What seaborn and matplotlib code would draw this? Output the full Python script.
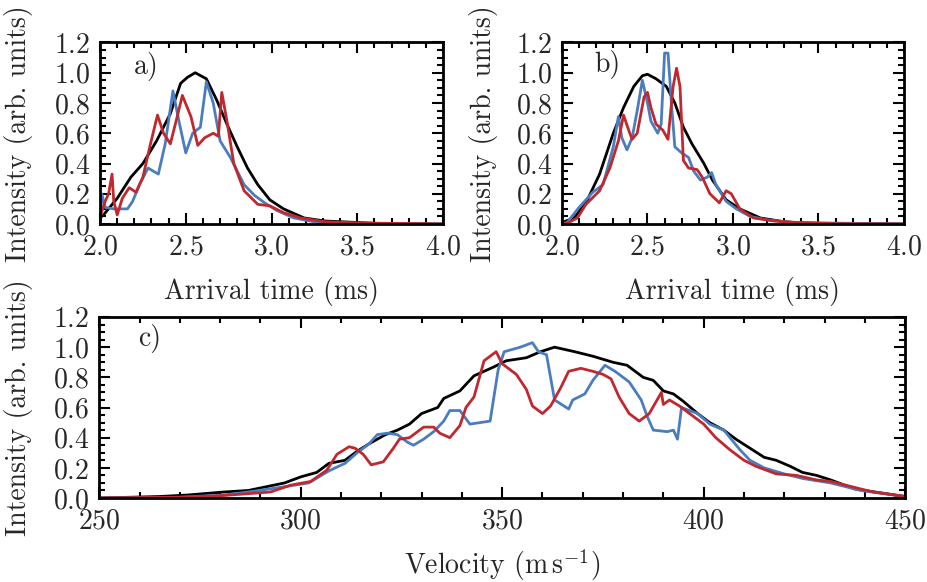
import matplotlib
matplotlib.use("Agg")
import matplotlib.pyplot as plt
from matplotlib.ticker import MultipleLocator
import seaborn as sns

# ---- panel a) arrival time traces ----
ta_black = [2.00, 2.02, 2.10, 2.18, 2.25, 2.33, 2.41, 2.47, 2.51, 2.555, 2.62, 2.68, 2.74,
            2.80, 2.86, 2.92, 2.99, 3.07, 3.19, 3.31, 3.50, 3.70, 4.00]
ia_black = [0.04, 0.06, 0.17, 0.31, 0.40, 0.55, 0.73, 0.93, 0.97, 1.00, 0.96, 0.82, 0.66,
            0.51, 0.37, 0.26, 0.16, 0.10, 0.04, 0.02, 0.01, 0.0, 0.0]

ta_blue = [2.00, 2.01, 2.03, 2.08, 2.16, 2.19, 2.23, 2.28, 2.34, 2.38, 2.425, 2.46, 2.50,
           2.54, 2.585, 2.62, 2.66, 2.70, 2.76, 2.84, 2.90, 2.96, 3.03, 3.13, 3.27, 3.50, 4.00]
ia_blue = [0.02, 0.20, 0.11, 0.10, 0.10, 0.15, 0.26, 0.37, 0.33, 0.53, 0.88, 0.68, 0.47,
           0.60, 0.64, 0.94, 0.80, 0.55, 0.44, 0.26, 0.19, 0.14, 0.09, 0.04, 0.01, 0.005, 0.0]

ta_red = [2.00, 2.03, 2.05, 2.07, 2.08, 2.10, 2.13, 2.17, 2.21, 2.25, 2.29, 2.335, 2.37,
          2.41, 2.45, 2.48, 2.53, 2.57, 2.61, 2.66, 2.69, 2.71, 2.74, 2.78, 2.84, 2.92,
          2.99, 3.07, 3.17, 3.31, 3.50, 4.00]
ia_red = [0.05, 0.15, 0.20, 0.33, 0.15, 0.06, 0.17, 0.24, 0.21, 0.31, 0.51, 0.72, 0.60,
          0.53, 0.71, 0.85, 0.71, 0.52, 0.57, 0.60, 0.58, 0.87, 0.68, 0.40, 0.22, 0.13,
          0.12, 0.075, 0.04, 0.015, 0.007, 0.0]

# ---- panel b) arrival time traces ----
tb_black = [2.00, 2.07, 2.14, 2.22, 2.30, 2.36, 2.42, 2.47, 2.50, 2.55, 2.61, 2.66, 2.71,
            2.76, 2.83, 2.88, 2.96, 3.04, 3.16, 3.31, 3.50, 4.00]
ib_black = [0.01, 0.04, 0.14, 0.33, 0.60, 0.77, 0.91, 0.98, 0.99, 0.96, 0.91, 0.80, 0.64,
            0.53, 0.40, 0.29, 0.16, 0.10, 0.04, 0.013, 0.004, 0.0]

tb_blue = [2.00, 2.03, 2.10, 2.18, 2.24, 2.30, 2.33, 2.35, 2.38, 2.41, 2.44, 2.47, 2.50,
           2.52, 2.56, 2.58, 2.60, 2.62, 2.64, 2.66, 2.70, 2.74, 2.77, 2.81, 2.85, 2.875,
           2.90, 2.96, 3.02, 3.10, 3.20, 3.35, 4.00]
ib_blue = [0.0, 0.01, 0.11, 0.21, 0.26, 0.51, 0.71, 0.57, 0.49, 0.57, 0.75, 0.95, 0.80,
           0.68, 0.60, 0.66, 1.13, 1.13, 0.80, 0.51, 0.47, 0.44, 0.35, 0.29, 0.31, 0.34,
           0.26, 0.15, 0.10, 0.05, 0.027, 0.01, 0.0]

tb_red = [2.00, 2.03, 2.09, 2.14, 2.22, 2.28, 2.33, 2.36, 2.39, 2.41, 2.44, 2.48, 2.50,
          2.52, 2.55, 2.59, 2.62, 2.65, 2.67, 2.69, 2.71, 2.74, 2.79, 2.82, 2.865, 2.92,
          2.96, 2.99, 3.04, 3.12, 3.24, 3.39, 3.59, 4.00]
ib_red = [0.0, 0.005, 0.04, 0.13, 0.22, 0.37, 0.55, 0.72, 0.62, 0.56, 0.60, 0.84, 0.87,
          0.77, 0.66, 0.62, 0.56, 0.91, 1.03, 0.91, 0.42, 0.37, 0.36, 0.31, 0.20, 0.14,
          0.22, 0.20, 0.10, 0.04, 0.02, 0.009, 0.002, 0.0]

# ---- panel c) velocity traces ----
vc_black = [250, 265, 272, 281, 287, 296, 300, 304, 307, 311, 314, 317, 321, 324, 327, 330,
            334, 335.5, 339.5, 343, 348, 351, 356, 359.5, 363, 368, 372.5, 377.5, 381, 385,
            387.5, 390, 392.5, 395, 398.5, 401.5, 405, 408, 411.5, 415, 418, 421.5, 424.5,
            428, 431.5, 437.5, 445, 450]
ic_black = [0.0, 0.01, 0.02, 0.04, 0.05, 0.10, 0.14, 0.17, 0.23, 0.25, 0.31, 0.36, 0.42,
            0.45, 0.49, 0.56, 0.60, 0.66, 0.71, 0.81, 0.87, 0.91, 0.93, 0.97, 1.00, 0.97,
            0.94, 0.90, 0.88, 0.80, 0.78, 0.71, 0.69, 0.64, 0.56, 0.50, 0.45, 0.39, 0.33,
            0.27, 0.25, 0.21, 0.17, 0.15, 0.12, 0.06, 0.03, 0.01]

vc_blue = [250, 270, 281, 287, 296, 302, 307, 311, 314, 317, 319, 321.5, 324, 326.5, 328,
           330.5, 333, 335.5, 337, 339.5, 342, 347, 349, 350.5, 354.5, 357.5, 359, 361,
           363, 366.5, 367.5, 370.5, 372.5, 375.5, 378, 381.5, 384.5, 386, 387.5, 391,
           392.5, 393.5, 394.5, 398.5, 401.5, 405, 409, 411.5, 415, 420, 424.5, 431.5,
           439, 450]
ic_blue = [0.0, 0.005, 0.02, 0.04, 0.075, 0.10, 0.18, 0.23, 0.30, 0.36, 0.42, 0.43, 0.42,
           0.37, 0.35, 0.39, 0.44, 0.51, 0.58, 0.58, 0.49, 0.51, 0.85, 0.97, 1.00, 1.03,
           0.97, 0.95, 0.65, 0.59, 0.65, 0.69, 0.78, 0.88, 0.84, 0.77, 0.65, 0.54, 0.45,
           0.44, 0.45, 0.39, 0.60, 0.56, 0.49, 0.45, 0.32, 0.25, 0.20, 0.16, 0.13, 0.10,
           0.05, 0.01]

vc_red = [250, 270, 280, 292.5, 297.5, 302.5, 306.5, 309, 312, 313.5, 315.5, 317.5, 320.5,
          323, 324.5, 327, 330.5, 333, 334.5, 337, 339.5, 341, 343, 345.5, 348.5, 350,
          353.5, 356, 357.5, 360, 362, 364.5, 366.5, 369.5, 372.5, 375, 377, 379, 381.5,
          384, 386.5, 389.5, 390, 391.5, 394, 396.5, 400, 403, 406.5, 410, 413, 418, 423,
          428, 431.5, 442, 450]
ic_red = [0.0, 0.005, 0.015, 0.04, 0.085, 0.11, 0.185, 0.29, 0.34, 0.33, 0.29, 0.22, 0.24,
          0.33, 0.39, 0.40, 0.47, 0.47, 0.43, 0.40, 0.48, 0.60, 0.67, 0.91, 0.97, 0.89,
          0.82, 0.72, 0.61, 0.56, 0.61, 0.73, 0.84, 0.86, 0.84, 0.82, 0.79, 0.67, 0.56,
          0.51, 0.56, 0.70, 0.62, 0.65, 0.61, 0.56, 0.49, 0.40, 0.32, 0.25, 0.21, 0.16,
          0.15, 0.12, 0.11, 0.04, 0.01]

BLACK = "#000000"
BLUE = "#4a7dbf"
RED = "#c0282e"

sns.set_style("ticks")
plt.rcParams['font.family'] = ['cmr10', 'DejaVu Serif']
plt.rcParams['mathtext.fontset'] = 'cm'
plt.rcParams['axes.formatter.use_mathtext'] = True
plt.rcParams['axes.unicode_minus'] = False

FS = 20
fig = plt.figure(figsize=(9.28, 5.82), dpi=100)
ax_a = fig.add_axes([0.1078, 0.6151, 0.3696, 0.3119])
ax_b = fig.add_axes([0.6056, 0.6151, 0.3685, 0.3119])
ax_c = fig.add_axes([0.1069, 0.1443, 0.8685, 0.3110])


def draw(ax, x_k, y_k, x_b, y_b, x_r, y_r):
    sns.lineplot(x=x_k, y=y_k, color=BLACK, linewidth=2.0, ax=ax, estimator=None, sort=False)
    sns.lineplot(x=x_b, y=y_b, color=BLUE, linewidth=2.0, ax=ax, estimator=None, sort=False)
    sns.lineplot(x=x_r, y=y_r, color=RED, linewidth=2.0, ax=ax, estimator=None, sort=False)


def style(ax, xmaj, xmin):
    ax.set_ylim(0, 1.2)
    ax.yaxis.set_major_locator(MultipleLocator(0.2))
    ax.yaxis.set_minor_locator(MultipleLocator(0.05))
    ax.xaxis.set_major_locator(MultipleLocator(xmaj))
    ax.xaxis.set_minor_locator(MultipleLocator(xmin))
    ax.tick_params(which='both', direction='in', top=True, right=True,
                   labelsize=FS, pad=7, width=1.5, color='black')
    ax.tick_params(which='major', length=8)
    ax.tick_params(which='minor', length=4)
    for sp in ax.spines.values():
        sp.set_linewidth(2.0)
        sp.set_color('black')
    ax.set_ylabel('Intensity (arb. units)', fontsize=FS)


draw(ax_a, ta_black, ia_black, ta_blue, ia_blue, ta_red, ia_red)
style(ax_a, 0.5, 0.1)
ax_a.set_xlim(2.0, 4.0)
ax_a.set_xlabel('Arrival time (ms)', fontsize=FS)
ax_a.text(0.136, 0.867, 'a)', transform=ax_a.transAxes, fontsize=FS, ha='center', va='center')
ax_a.yaxis.set_label_coords(-0.195, 0.5)
ax_a.xaxis.set_label_coords(0.5, -0.29)

draw(ax_b, tb_black, ib_black, tb_blue, ib_blue, tb_red, ib_red)
style(ax_b, 0.5, 0.1)
ax_b.set_xlim(2.0, 4.0)
ax_b.set_xlabel('Arrival time (ms)', fontsize=FS)
ax_b.text(0.134, 0.876, 'b)', transform=ax_b.transAxes, fontsize=FS, ha='center', va='center')
ax_b.yaxis.set_label_coords(-0.187, 0.5)
ax_b.xaxis.set_label_coords(0.5, -0.29)

draw(ax_c, vc_black, ic_black, vc_blue, ic_blue, vc_red, ic_red)
style(ax_c, 50, 10)
ax_c.set_xlim(250, 450)
ax_c.set_xlabel(r'Velocity (m$\,$s$^{-1}$)', fontsize=FS)
ax_c.text(0.063, 0.88, 'c)', transform=ax_c.transAxes, fontsize=FS, ha='center', va='center')
ax_c.yaxis.set_label_coords(-0.082, 0.5)
ax_c.xaxis.set_label_coords(0.5, -0.275)

fig.savefig('out.png', dpi=100)
